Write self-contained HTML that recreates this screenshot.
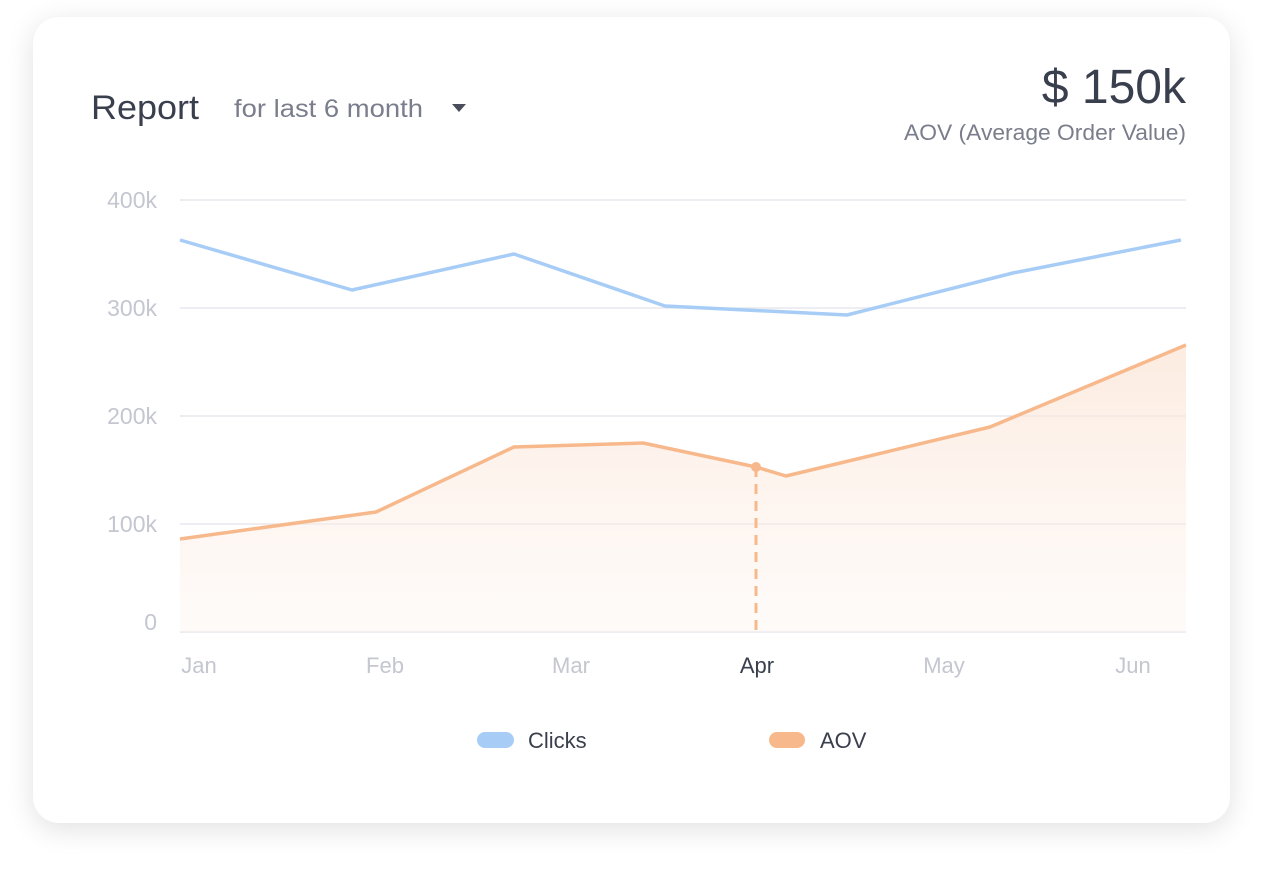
<!DOCTYPE html>
<html><head><meta charset="utf-8"><style>
html,body{margin:0;padding:0;background:#fff;width:1263px;height:873px;overflow:hidden;font-family:"Liberation Sans",sans-serif;}
.card{position:absolute;left:33px;top:17px;width:1197px;height:806px;border-radius:26px;background:#fff;box-shadow:0 6px 28px rgba(0,0,0,0.12);}
svg{position:absolute;left:0;top:0;}
</style></head><body>
<div class="card"></div>
<svg width="1263" height="873" font-family="Liberation Sans, sans-serif">
<defs><linearGradient id="g" x1="0" y1="0" x2="0" y2="1"><stop offset="0" stop-color="#fbe3d3" stop-opacity="0.7"/><stop offset="1" stop-color="#fdf1ea" stop-opacity="0.3"/></linearGradient></defs>
<text x="91" y="119" font-size="34" fill="#3a3f4e" textLength="108" lengthAdjust="spacingAndGlyphs">Report</text>
<text x="234" y="117" font-size="25" fill="#7a7e8c" textLength="189" lengthAdjust="spacingAndGlyphs">for last 6 month</text>
<path d="M452 104 L466 104 L459 112 Z" fill="#4a4e5c"/>
<text x="1186" y="103" font-size="48" fill="#3a3f4e" text-anchor="end">$ 150k</text>
<text x="1186" y="140" font-size="22.5" fill="#7a7e8c" text-anchor="end" textLength="282" lengthAdjust="spacingAndGlyphs">AOV (Average Order Value)</text>
<g stroke="#e8e9ee" stroke-width="1.5">
<line x1="180" y1="200" x2="1186" y2="200"/><line x1="180" y1="308" x2="1186" y2="308"/><line x1="180" y1="416" x2="1186" y2="416"/><line x1="180" y1="524" x2="1186" y2="524"/><line x1="180" y1="632" x2="1186" y2="632"/>
</g>
<g font-size="23" fill="#c4c6d0" text-anchor="end">
<text x="157" y="208">400k</text><text x="157" y="316">300k</text><text x="157" y="424">200k</text><text x="157" y="532">100k</text><text x="157" y="630">0</text>
</g>
<path d="M180 539 L376 512 L514 447 L643 443 L756 467 L786 476 L990 427 L1186 345 L1186 632 L180 632 Z" fill="url(#g)"/>
<polyline points="180,240 352,290 514,254 665,306 847,315 1013,273 1181,240" fill="none" stroke="#a7cdf7" stroke-width="3.5" stroke-linejoin="round"/>
<polyline points="180,539 376,512 514,447 643,443 756,467 786,476 990,427 1186,345" fill="none" stroke="#f7b98c" stroke-width="3.5" stroke-linejoin="round"/>
<line x1="756" y1="467" x2="756" y2="632" stroke="#f7b98c" stroke-width="3" stroke-dasharray="10,7"/>
<circle cx="756" cy="467" r="5" fill="#f7b98c"/>
<g font-size="22" fill="#c4c6d0" text-anchor="middle">
<text x="199" y="673">Jan</text><text x="385" y="673">Feb</text><text x="571" y="673">Mar</text><text x="757" y="673" fill="#3a3f4e">Apr</text><text x="944" y="673">May</text><text x="1133" y="673">Jun</text>
</g>
<rect x="477" y="732" width="37" height="16" rx="8" fill="#a7cdf7"/>
<text x="528" y="748" font-size="22" fill="#3a3f4e">Clicks</text>
<rect x="769" y="732" width="36" height="16" rx="8" fill="#f7b98c"/>
<text x="820" y="748" font-size="22" fill="#3a3f4e">AOV</text>
</svg>
</body></html>
